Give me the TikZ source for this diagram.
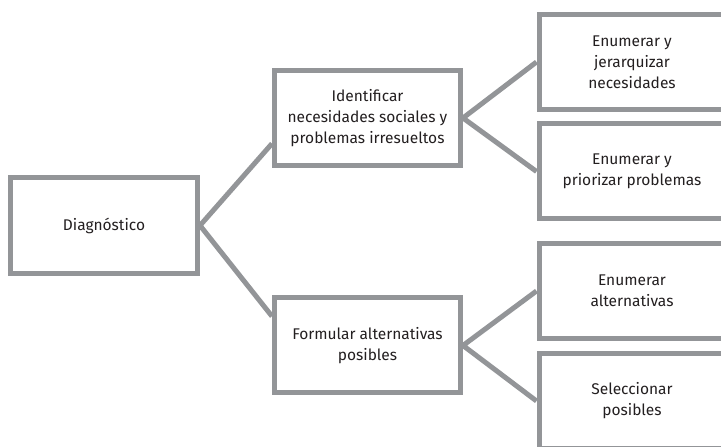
\documentclass[tikz,border=0pt]{standalone}
\usepackage{fontspec}
\setmainfont{Fira Sans}
\definecolor{linegray}{HTML}{939598}
\definecolor{txt}{HTML}{231F20}
\begin{document}
\begin{tikzpicture}[x=1pt,y=1pt,
  box/.style={draw=linegray, line width=5pt, fill=white, text=txt,
    align=center, inner sep=0pt, minimum width=186pt, minimum height=95pt,
    font=\fontsize{15.5}{21}\selectfont},
  conn/.style={draw=linegray, line width=5pt, line join=miter}]
\useasboundingbox (0,0) rectangle (721,447);
\clip (0,0) rectangle (721,447);
\node[box, minimum width=187pt, minimum height=96pt] (diag) at (104,221.5) {Diagnóstico};
\node[box] (b2) at (367.5,329) {Identificar\\necesidades sociales y\\problemas irresueltos};
\node[box] (b5) at (367.5,101.5) {Formular alternativas\\posibles};
\node[box] (b3) at (632,385) {Enumerar y\\jerarquizar\\necesidades};
\node[box] (b4) at (632,275.5) {Enumerar y\\priorizar problemas};
\node[box] (b6) at (632,156) {Enumerar\\alternativas};
\node[box] (b7) at (632,46) {Seleccionar\\posibles};
\begin{scope}[on background layer/.try]
\end{scope}
\path[conn] (b2.195) -- (diag.east) -- (b5.163);
\path[conn] (b3.west) -- (b2.east) -- (b4.west);
\path[conn] (b6.west) -- (b5.east) -- (b7.west);
\end{tikzpicture}
\end{document}
